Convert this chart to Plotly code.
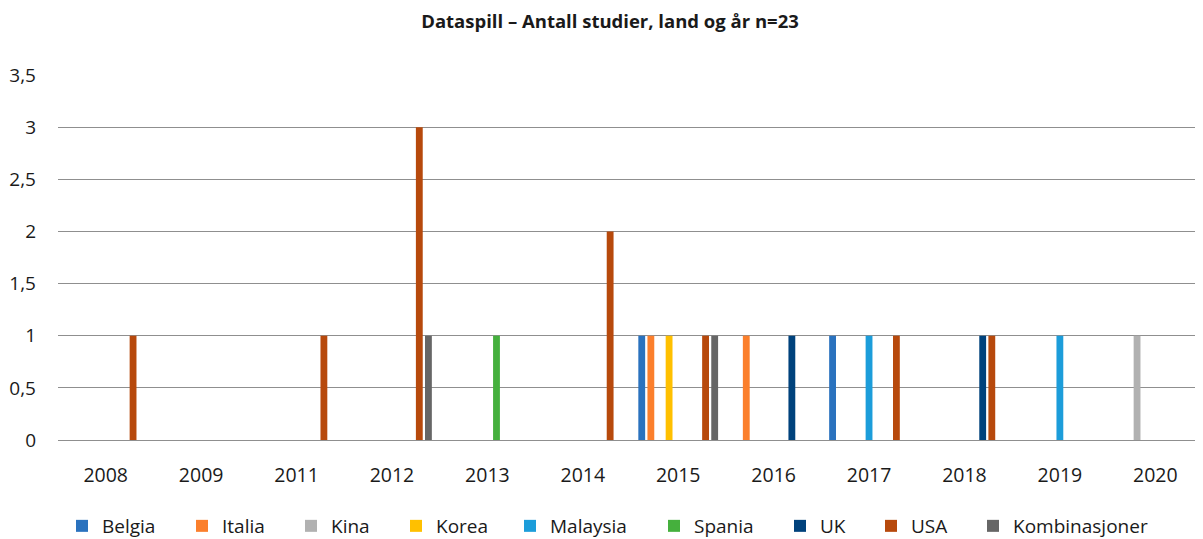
import plotly.graph_objects as go

years = ["2008", "2009", "2011", "2012", "2013", "2014", "2015", "2016", "2017", "2018", "2019", "2020"]

belgia        = [0, 0, 0, 0, 0, 0, 1, 0, 1, 0, 0, 0]
italia        = [0, 0, 0, 0, 0, 0, 1, 1, 0, 0, 0, 0]
kina          = [0, 0, 0, 0, 0, 0, 0, 0, 0, 0, 0, 1]
korea         = [0, 0, 0, 0, 0, 0, 1, 0, 0, 0, 0, 0]
malaysia      = [0, 0, 0, 0, 0, 0, 0, 0, 1, 0, 1, 0]
spania        = [0, 0, 0, 0, 1, 0, 0, 0, 0, 0, 0, 0]
uk            = [0, 0, 0, 0, 0, 0, 0, 1, 0, 1, 0, 0]
usa           = [1, 0, 1, 3, 0, 2, 1, 0, 1, 1, 0, 0]
kombinasjoner = [0, 0, 0, 1, 0, 0, 1, 0, 0, 0, 0, 0]

series_names = ["Belgia", "Italia", "Kina", "Korea", "Malaysia", "Spania", "UK", "USA", "Kombinasjoner"]
series_values = [belgia, italia, kina, korea, malaysia, spania, uk, usa, kombinasjoner]
colors = ["#2A72BE", "#FB7F2C", "#B1B1B1", "#FFC000", "#1C9DDA", "#45B03D", "#00427C", "#B7490C", "#666666"]

y_ticks = [0, 0.5, 1, 1.5, 2, 2.5, 3, 3.5]
y_tick_text = ["0", "0,5", "1", "1,5", "2", "2,5", "3", "3,5"]

# page offset of the plot div (browser default body margin)
OFF = 8
W, H = 1203 - OFF, 539 - OFF

# legend marker left edges (page px) as in the reference
legend_px = [76, 196, 305, 410, 524, 668, 794, 885, 987]

font = "Open Sans"

fig = go.Figure()
legend_layout = {}
for i, (name, vals, c) in enumerate(zip(series_names, series_values, colors)):
    lg = "legend" if i == 0 else f"legend{i+1}"
    fig.add_trace(go.Bar(x=years, y=vals, name=name, legend=lg,
                         marker=dict(color=c, line=dict(width=0))))
    legend_layout[lg] = dict(
        orientation="h", xref="container", yref="container",
        x=(legend_px[i] - OFF - 14) / W, xanchor="left",
        y=1 - (526 - OFF) / H, yanchor="middle",
        font=dict(family=font, size=19, color="#1a1a1a"),
        itemclick=False, bgcolor="rgba(0,0,0,0)", borderwidth=0,
    )

fig.update_layout(
    width=W, height=H,
    margin=dict(l=58 - OFF, r=0, t=75 - OFF, b=H - (440 - OFF), autoexpand=False),
    paper_bgcolor="white", plot_bgcolor="white",
    barmode="group", bargap=0.14, bargroupgap=0.25,
    title=dict(text="<b>Dataspill – Antall studier, land og år n=23</b>",
               x=(610 - OFF) / W, xanchor="center", y=1 - (22 - OFF) / H, yanchor="middle",
               font=dict(family=font, size=18.5, color="#1a1a1a")),
    font=dict(family=font, color="#1a1a1a"),
    showlegend=True,
    **legend_layout,
)
fig.update_xaxes(type="category", showgrid=False, showline=False, zeroline=False,
                 automargin=False,
                 tickfont=dict(family=font, size=19.5, color="#1a1a1a"),
                 ticks="", ticklabelstandoff=21)
fig.update_yaxes(range=[0, 3.5], tickvals=y_ticks, ticktext=y_tick_text,
                 automargin=False,
                 showgrid=True, gridcolor="#8f8f8f", gridwidth=1.2,
                 zeroline=True, zerolinecolor="#8f8f8f", zerolinewidth=1.2,
                 showline=False, ticks="", ticklabelstandoff=21,
                 tickfont=dict(family=font, size=19, color="#1a1a1a"))

fig.write_html("out.html")
